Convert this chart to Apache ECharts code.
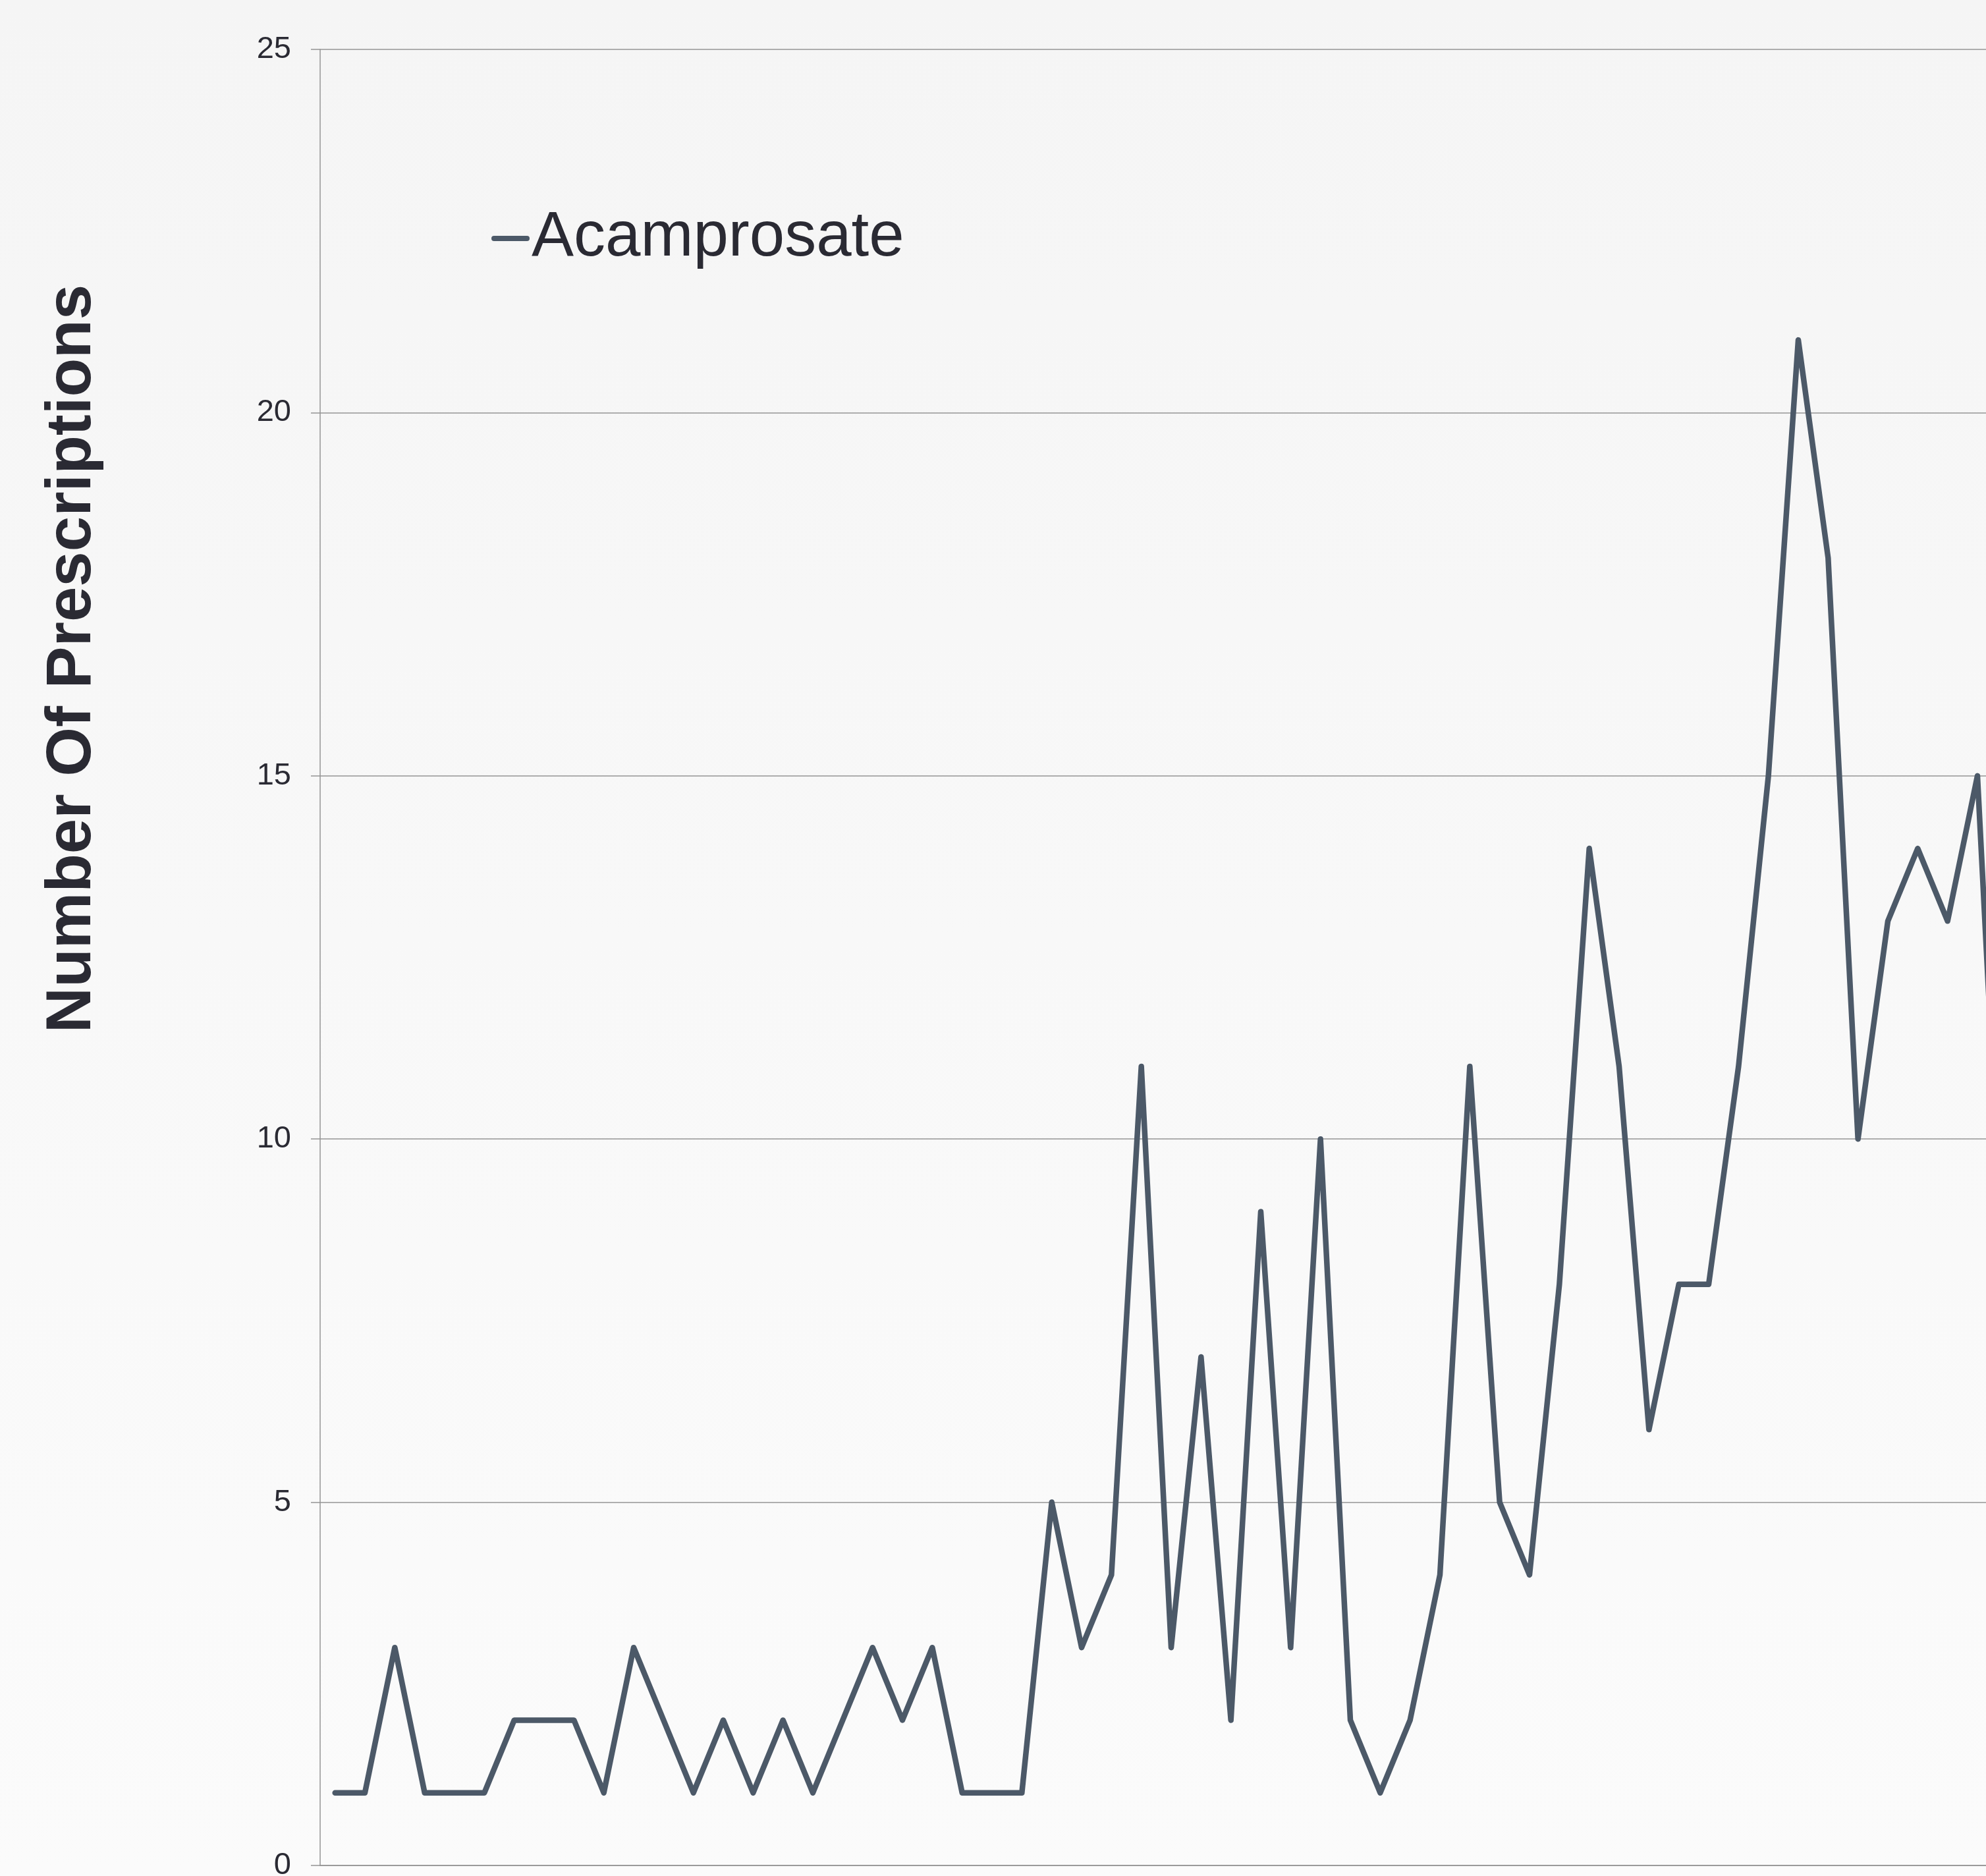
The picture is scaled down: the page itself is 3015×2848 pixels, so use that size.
<!DOCTYPE html>
<html>
<head>
<meta charset="utf-8">
<title>Acamprosate prescriptions</title>
<script src="https://cdn.jsdelivr.net/npm/echarts@6/dist/echarts.min.js"></script>
<style>
  html, body { margin: 0; padding: 0; overflow: hidden; }
  body { width: 3015px; height: 2848px; background: linear-gradient(#f5f5f5, #fbfbfb); }
  #chart { width: 3200px; height: 3000px; }
</style>
</head>
<body>
<div id="chart"></div>
<script>
// Period index along the horizontal axis
const periods = Array.from({ length: 57 }, (_, i) => String(i + 1));

// Number of Acamprosate prescriptions per period
const acamprosate = [
  1, 1, 3, 1, 1, 1, 2, 2, 2, 1,
  3, 2, 1, 2, 1, 2, 1, 2, 3, 2,
  3, 1, 1, 1, 5, 3, 4, 11, 3, 7,
  2, 9, 3, 10, 2, 1, 2, 4, 11, 5,
  4, 8, 14, 11, 6, 8, 8, 11, 15, 21,
  18, 10, 13, 14, 13, 15, 7
];

// Value axis ticks
const yMin = 0, yMax = 25, yStep = 5;

const lineColor = '#4c5968';
const textColor = '#2a2a33';
const gridColor = '#949494';
const fontFamily = '"Liberation Sans", Arial, Helvetica, sans-serif';

const chart = echarts.init(document.getElementById('chart'), null, { renderer: 'canvas' });

chart.setOption({
  backgroundColor: 'transparent',
  animation: false,
  grid: {
    left: 486,
    top: 75,
    width: 2584,
    height: 2757,
    containLabel: false,
    outerBoundsMode: 'none'
  },
  legend: {
    left: 746,
    top: 314,
    padding: 0,
    itemWidth: 58,
    itemHeight: 8,
    itemGap: 0,
    textStyle: { fontFamily, fontSize: 96, color: textColor, padding: [0, 0, 0, -2] },
    data: [{
      name: 'Acamprosate',
      // capsule-shaped line marker
      icon: 'path://M4,0 L54,0 A4,4 0 0 1 54,8 L4,8 A4,4 0 0 1 4,0 Z',
      itemStyle: { color: lineColor }
    }]
  },
  graphic: [{
    type: 'text',
    x: 111,
    y: 1000,
    rotation: Math.PI / 2,
    style: {
      text: 'Number Of Prescriptions',
      font: 'bold 96px ' + fontFamily,
      fill: textColor,
      textAlign: 'center',
      textVerticalAlign: 'middle'
    }
  }],
  xAxis: {
    type: 'category',
    data: periods,
    boundaryGap: true,
    axisLine: { show: true, lineStyle: { color: gridColor, width: 1.5 } },
    axisTick: { show: false },
    axisLabel: { show: false },
    splitLine: { show: false }
  },
  yAxis: {
    type: 'value',
    min: yMin,
    max: yMax,
    interval: yStep,
    axisLine: { show: true, lineStyle: { color: gridColor, width: 1.5 } },
    axisTick: { show: true, length: 14, lineStyle: { color: gridColor, width: 1.5 } },
    axisLabel: { margin: 44, fontFamily, fontSize: 47, color: textColor },
    splitLine: { show: true, lineStyle: { color: gridColor, width: 1.5 } }
  },
  series: [{
    name: 'Acamprosate',
    type: 'line',
    data: acamprosate,
    symbol: 'none',
    lineStyle: { color: lineColor, width: 8.5, cap: 'round', join: 'round' },
    itemStyle: { color: lineColor }
  }]
});
</script>
</body>
</html>
